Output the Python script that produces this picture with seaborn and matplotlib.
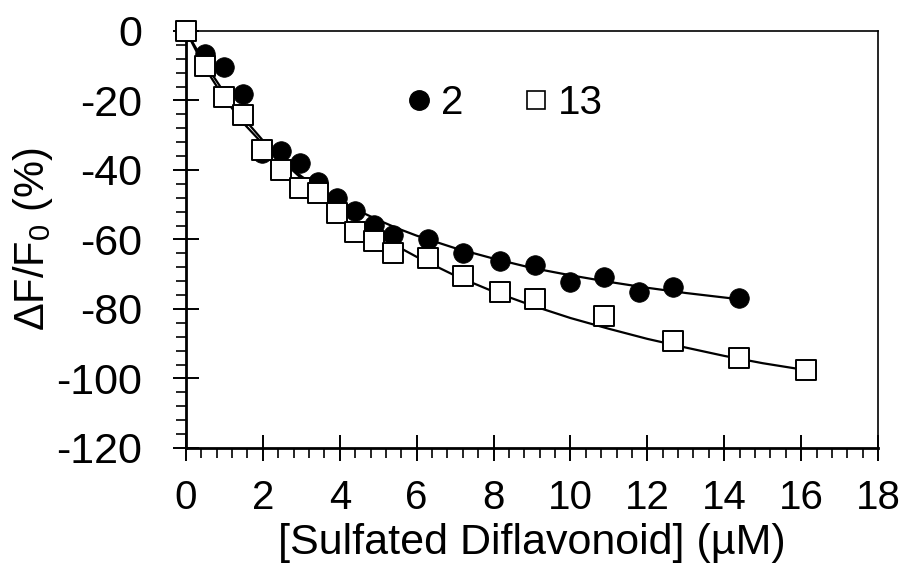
import numpy as np
import pandas as pd
import matplotlib
matplotlib.use("Agg")
import matplotlib.pyplot as plt
from matplotlib.lines import Line2D
from matplotlib.ticker import MultipleLocator
import seaborn as sns

# ---- data ----
x2 = [0, 0.49, 0.99, 1.48, 1.98, 2.47, 2.97, 3.43, 3.93, 4.40, 4.89, 5.39,
      6.30, 7.21, 8.17, 9.08, 9.99, 10.88, 11.77, 12.66, 14.39]
y2 = [0, -6.5, -10.3, -18.1, -35.2, -34.5, -37.9, -43.5, -48.1, -51.8, -55.8,
      -58.7, -59.9, -64.0, -66.1, -67.2, -72.3, -70.7, -75.0, -73.8, -76.9]

x13 = [0, 0.49, 0.99, 1.48, 1.98, 2.47, 2.97, 3.43, 3.93, 4.40, 4.89, 5.39,
       6.30, 7.21, 8.17, 9.08, 10.88, 12.66, 14.39, 16.13]
y13 = [0, -10.0, -18.9, -24.2, -34.2, -40.0, -45.3, -46.6, -52.4, -57.8,
       -60.4, -63.9, -65.4, -70.4, -75.0, -77.2, -82.1, -89.2, -94.2, -97.6]

# fitted curves as drawn in the reference
fx2 = [0, 0.5, 1, 1.5, 2, 2.5, 3, 3.5, 4, 4.5, 5, 5.5, 6, 7, 8, 9, 10, 11, 12, 13, 14.39]
fy2 = [0, -10.7, -19.4, -26.6, -32.5, -37.5, -41.8, -45.6, -48.9, -51.8, -54.4,
       -56.8, -58.9, -62.5, -65.5, -68.2, -70.3, -72.2, -73.9, -75.4, -77.2]
fx13 = [0, 0.5, 1, 1.5, 2, 2.5, 3, 3.5, 4, 4.5, 5, 5.5, 6, 7, 8, 9, 10, 11, 12,
        13, 14, 15, 16.13]
fy13 = [0, -9.5, -17.8, -25.1, -31.5, -37.3, -42.4, -47.1, -51.4, -55.2, -58.8,
        -62.0, -65.0, -70.4, -75.0, -79.0, -82.6, -85.7, -88.6, -91.1, -93.5,
        -95.6, -97.6]

series_labels = ["2", "13"]
x_ticks = [0, 2, 4, 6, 8, 10, 12, 14, 16, 18]
y_ticks = [0, -20, -40, -60, -80, -100, -120]

sns.set_theme(style="ticks")
plt.rcParams["font.family"] = ["Liberation Sans", "DejaVu Sans"]
plt.rcParams["mathtext.fontset"] = "custom"
plt.rcParams["mathtext.rm"] = "Liberation Sans"
plt.rcParams["mathtext.it"] = "Liberation Sans:italic"
for k in ["text.color", "axes.labelcolor", "xtick.color", "ytick.color",
          "axes.edgecolor"]:
    plt.rcParams[k] = "black"

fig = plt.figure(figsize=(9.08, 5.80), dpi=100)
ax = fig.add_axes([0.2048, 0.2276, 0.7622, 0.7190])

df_fit2 = pd.DataFrame({"x": fx2, "y": fy2})
df_fit13 = pd.DataFrame({"x": fx13, "y": fy13})
sns.lineplot(data=df_fit2, x="x", y="y", ax=ax, color="black", lw=1.6,
             sort=False, estimator=None, zorder=2)
sns.lineplot(data=df_fit13, x="x", y="y", ax=ax, color="black", lw=1.6,
             sort=False, estimator=None, zorder=2)

df2 = pd.DataFrame({"x": x2, "y": y2})
df13 = pd.DataFrame({"x": x13, "y": y13})
sns.scatterplot(data=df2, x="x", y="y", ax=ax, marker="o", s=200,
                color="black", edgecolor="black", linewidth=0.5, zorder=3,
                clip_on=False)
sns.scatterplot(data=df13, x="x", y="y", ax=ax, marker="s", s=195,
                facecolor="white", edgecolor="black", linewidth=1.4, zorder=4,
                clip_on=False)

ax.set_xlim(0, 18)
ax.set_ylim(-120, 0)
ax.set_xticks(x_ticks)
ax.set_yticks(y_ticks)
ax.set_xticklabels([str(t) for t in x_ticks], fontsize=29)
ax.set_yticklabels([str(t) for t in y_ticks], fontsize=31)
ax.xaxis.set_minor_locator(MultipleLocator(0.4))
ax.yaxis.set_minor_locator(MultipleLocator(4))

ax.tick_params(axis="both", which="major", direction="inout", length=19,
               width=1.4, color="black")
ax.tick_params(axis="both", which="minor", direction="out", length=7,
               width=1.2, color="black")
ax.tick_params(axis="x", which="major", pad=13)
ax.tick_params(axis="y", which="major", pad=22)

for side in ["left", "bottom"]:
    ax.spines[side].set_linewidth(2.0)
for side in ["top", "right"]:
    ax.spines[side].set_visible(True)
    ax.spines[side].set_linewidth(1.2)

ax.set_xlabel("[Sulfated Diflavonoid] (µM)", fontsize=31, labelpad=4)
ax.set_ylabel("ΔF/F$_\\mathregular{0}$ (%)", fontsize=30, labelpad=1)

handles = [
    Line2D([], [], marker="o", ls="none", color="black", markersize=14),
    Line2D([], [], marker="s", ls="none", markerfacecolor="white",
           markeredgecolor="black", markeredgewidth=1.2, markersize=13),
]
ax.legend(handles, series_labels, ncol=2, frameon=False, fontsize=29,
          loc="center", bbox_to_anchor=(0.458, 0.827), handlelength=0.8,
          handletextpad=0.15, columnspacing=1.4, borderpad=0)

fig.savefig("out.png", dpi=100, facecolor="white")
